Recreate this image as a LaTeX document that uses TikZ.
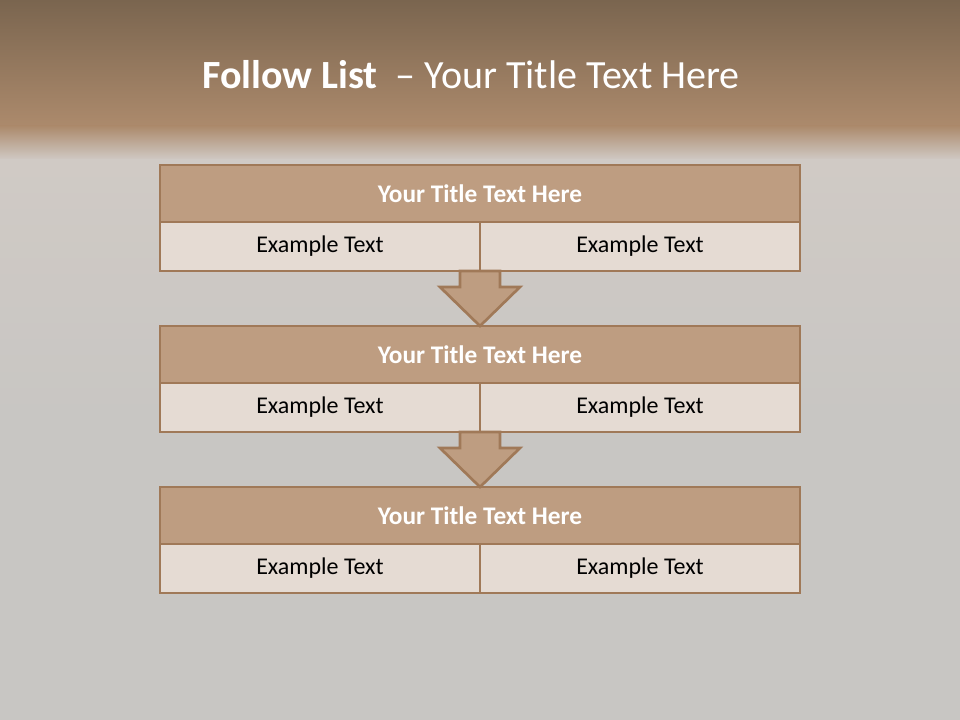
\documentclass[tikz,border=0pt]{standalone}
\usepackage{fontspec}
\setmainfont{Carlito}
\usetikzlibrary{positioning,calc}
\definecolor{bandtop}{RGB}{122,101,79}
\definecolor{bandlow}{RGB}{172,138,108}
\definecolor{haze}{RGB}{208,202,197}
\definecolor{slate}{RGB}{200,198,195}
\definecolor{rowfill}{RGB}{190,157,129}
\definecolor{rowedge}{RGB}{160,121,88}
\definecolor{cellfill}{RGB}{229,219,211}
\begin{document}
\begin{tikzpicture}[x=0.75pt, y=-0.75pt,
  rowbox/.style={draw=rowedge, fill=rowfill, line width=2pt, minimum width=480pt,
    minimum height=42.75pt, inner sep=0pt, outer sep=0pt, text=white,
    font=\fontsize{19}{23}\selectfont\bfseries},
  cellbox/.style={draw=rowedge, fill=cellfill, line width=2pt, minimum width=240pt,
    minimum height=36.75pt, inner sep=0pt, outer sep=0pt,
    font=\fontsize{18}{22}\selectfont},
  flowarrow/.style={draw=rowedge, fill=rowfill, line width=2pt, line join=miter}]
\useasboundingbox (0,0) rectangle (960,720);
% ---- background
\fill[slate] (0,0) rectangle (960,720);
\shade[top color=bandtop, bottom color=bandlow] (0,0) rectangle (960,126);
\shade[top color=bandlow, bottom color=haze] (0,126) rectangle (960,160);
\shade[top color=haze, bottom color=slate] (0,160) rectangle (960,420);
\node[text=white, font=\fontsize{30}{36}\selectfont] (head) at (471,75)
  {\textbf{Follow List}\ \ --\ Your Title Text Here};
% ---- blocks
\foreach \i/\y in {1/193.5, 2/354.5, 3/515.5} {
  \node[rowbox] (t\i) at (480,\y) {Your Title Text Here};
  \node[cellbox, anchor=north west] (l\i) at (t\i.south west) {Example Text};
  \node[cellbox, anchor=north east] (r\i) at (t\i.south east) {Example Text};
}
% ---- arrows between blocks
\foreach \i/\j in {1/2, 2/3} {
  \coordinate (a) at (l\i.south east);
  \draw[flowarrow] ($(a)+(-20,0)$) -- ($(a)+(20,0)$) -- ($(a)+(20,16)$)
    -- ($(a)+(40,16)$) -- (t\j.north) -- ($(a)+(-40,16)$) -- ($(a)+(-20,16)$) -- cycle;
}
\end{tikzpicture}
\end{document}
